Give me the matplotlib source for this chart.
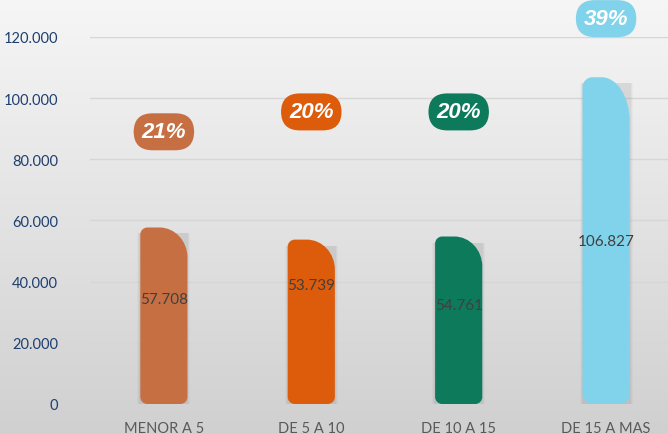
import numpy as np
import matplotlib.pyplot as plt
from matplotlib.path import Path
from matplotlib.patches import PathPatch, Rectangle

# datos
categorias = ['MENOR A 5', 'DE 5 A 10', 'DE 10 A 15', 'DE 15 A MAS']
valores = [57708, 53739, 54761, 106827]
porcentajes = ['21%', '20%', '20%', '39%']
colores = ['#C66F43', '#DC5C0B', '#0D7A5B', '#80D3EA']

# posiciones de etiquetas (estilo)
etiqueta_frac = [0.595, 0.725, 0.59, 0.5]
badge_y = [89000, 95500, 95500, 126000]

plt.rcParams['font.family'] = ['Lato', 'DejaVu Sans']

fig = plt.figure(figsize=(6.68, 4.35), dpi=100)

# fondo degradado
bg = fig.add_axes([0, 0, 1, 1], zorder=-1)
grad = np.linspace(0, 1, 256).reshape(-1, 1)
bg.imshow(grad, aspect='auto', cmap=plt.matplotlib.colors.LinearSegmentedColormap.from_list(
    'g', ['#f6f6f6', '#d0d0d0']), extent=[0, 1, 0, 1])
bg.axis('off')

ax = fig.add_axes([0.135, 0.069, 0.865, 0.8437])
ax.set_facecolor('none')
ax.set_xlim(-0.5, 3.42)
ax.set_ylim(0, 120000)
ax.set_yticks(np.arange(0, 120001, 20000))
ax.set_yticklabels(['0', '20.000', '40.000', '60.000', '80.000', '100.000', '120.000'])
ax.set_xticks(range(len(categorias)))
ax.set_xticklabels(categorias)
ax.grid(axis='y', color='#d6d6d6', linewidth=1)
ax.set_axisbelow(True)
for s in ax.spines.values():
    s.set_visible(False)
ax.tick_params(axis='y', length=0, pad=23, colors='#1F3F6F', labelsize=10.5)
ax.tick_params(axis='x', length=0, pad=12, colors='#595959', labelsize=10.5)

fig.canvas.draw()
# escala px por unidad
px_x = ax.transData.transform((1, 0))[0] - ax.transData.transform((0, 0))[0]
px_y = ax.transData.transform((0, 1000))[1] - ax.transData.transform((0, 0))[1]

ancho = 0.32
k = 0.5523


def barra(x0, x1, y0, y1, rx_tr, ry_tr, r):
    rxs = r / px_x
    rys = r / px_y * 1000
    rx = rx_tr / px_x
    ry = ry_tr / px_y * 1000
    verts = [
        (x0 + rxs, y0),
        (x1 - rxs, y0),
        (x1 - rxs + k * rxs, y0), (x1, y0 + rys - k * rys), (x1, y0 + rys),
        (x1, y1 - ry),
        (x1, y1 - ry + k * ry), (x1 - rx + k * rx, y1), (x1 - rx, y1),
        (x0 + rxs, y1),
        (x0 + rxs - k * rxs, y1), (x0, y1 - rys + k * rys), (x0, y1 - rys),
        (x0, y0 + rys),
        (x0, y0 + rys - k * rys), (x0 + rxs - k * rxs, y0), (x0 + rxs, y0),
        (x0 + rxs, y0),
    ]
    codes = [Path.MOVETO, Path.LINETO,
             Path.CURVE4, Path.CURVE4, Path.CURVE4,
             Path.LINETO,
             Path.CURVE4, Path.CURVE4, Path.CURVE4,
             Path.LINETO,
             Path.CURVE4, Path.CURVE4, Path.CURVE4,
             Path.LINETO,
             Path.CURVE4, Path.CURVE4, Path.CURVE4,
             Path.CLOSEPOLY]
    return Path(verts, codes)


for i, v in enumerate(valores):
    x0 = i - ancho / 2
    x1 = i + ancho / 2
    # sombra
    for j, a in enumerate([0.04, 0.05, 0.07]):
        d = (3 - j) / px_x
        ax.add_patch(Rectangle((x0 - d, 0), ancho + 2 * d, v - 6 / px_y * 1000,
                               facecolor='#606060', alpha=a, edgecolor='none', zorder=2))
    ry = 30 + 14 * (v > 80000)
    rb = 7 + 3 * (v > 80000)
    ax.add_patch(PathPatch(barra(x0, x1, 0, v, 28, ry, rb), facecolor=colores[i],
                           edgecolor='none', zorder=3))
    etiqueta = f'{v:,}'.replace(',', '.')
    ax.text(i, v * etiqueta_frac[i], etiqueta, ha='center', va='center',
            color='#404040', fontsize=11, zorder=4)
    ax.text(i, badge_y[i], porcentajes[i], ha='center', va='center', color='white',
            fontsize=16, fontweight='bold', style='italic', family='Liberation Sans',
            zorder=5, clip_on=False,
            bbox=dict(boxstyle='round,pad=0.36,rounding_size=0.85', fc=colores[i], ec='none'))

plt.savefig('out.png', dpi=100)
